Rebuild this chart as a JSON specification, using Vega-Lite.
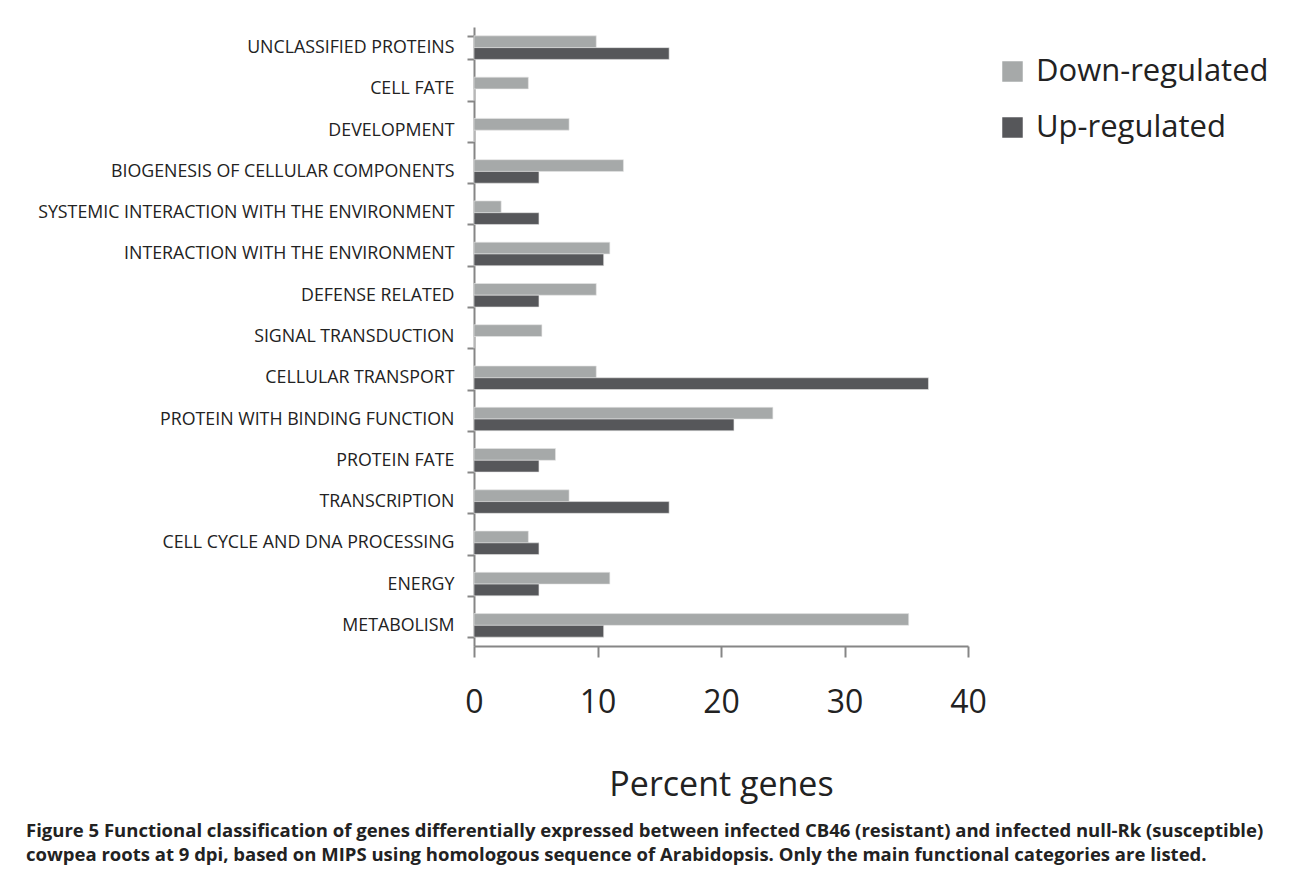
{
  "$schema": "https://vega.github.io/schema/vega-lite/v6.json",
  "width": 494,
  "height": 619,
  "autosize": {"type": "none"},
  "padding": {"left": 474, "top": 27, "right": 325, "bottom": 226},
  "background": "white",
  "title": {
    "text": ["Figure 5 Functional classification of genes differentially expressed between infected CB46 (resistant) and infected null-Rk (susceptible)", "cowpea roots at 9 dpi, based on MIPS using homologous sequence of Arabidopsis. Only the main functional categories are listed."],
    "orient": "bottom",
    "anchor": "start",
    "frame": "group",
    "dx": -448,
    "offset": 20,
    "font": "Open Sans",
    "fontSize": 18.5,
    "fontWeight": "bold",
    "lineHeight": 24,
    "color": "#222222"
  },
  "data": {
    "values": [
      {"category": "UNCLASSIFIED PROTEINS", "series": "Down-regulated", "percent": 9.9},
      {"category": "UNCLASSIFIED PROTEINS", "series": "Up-regulated", "percent": 15.8},
      {"category": "CELL FATE", "series": "Down-regulated", "percent": 4.4},
      {"category": "CELL FATE", "series": "Up-regulated", "percent": 0},
      {"category": "DEVELOPMENT ", "series": "Down-regulated", "percent": 7.7},
      {"category": "DEVELOPMENT ", "series": "Up-regulated", "percent": 0},
      {"category": "BIOGENESIS OF CELLULAR COMPONENTS", "series": "Down-regulated", "percent": 12.1},
      {"category": "BIOGENESIS OF CELLULAR COMPONENTS", "series": "Up-regulated", "percent": 5.26},
      {"category": "SYSTEMIC INTERACTION WITH THE ENVIRONMENT", "series": "Down-regulated", "percent": 2.2},
      {"category": "SYSTEMIC INTERACTION WITH THE ENVIRONMENT", "series": "Up-regulated", "percent": 5.26},
      {"category": "INTERACTION WITH THE  ENVIRONMENT", "series": "Down-regulated", "percent": 11.0},
      {"category": "INTERACTION WITH THE  ENVIRONMENT", "series": "Up-regulated", "percent": 10.5},
      {"category": "DEFENSE RELATED", "series": "Down-regulated", "percent": 9.9},
      {"category": "DEFENSE RELATED", "series": "Up-regulated", "percent": 5.26},
      {"category": "SIGNAL TRANSDUCTION", "series": "Down-regulated", "percent": 5.5},
      {"category": "SIGNAL TRANSDUCTION", "series": "Up-regulated", "percent": 0},
      {"category": "CELLULAR TRANSPORT", "series": "Down-regulated", "percent": 9.9},
      {"category": "CELLULAR TRANSPORT", "series": "Up-regulated", "percent": 36.8},
      {"category": "PROTEIN WITH BINDING FUNCTION ", "series": "Down-regulated", "percent": 24.2},
      {"category": "PROTEIN WITH BINDING FUNCTION ", "series": "Up-regulated", "percent": 21.05},
      {"category": "PROTEIN FATE ", "series": "Down-regulated", "percent": 6.6},
      {"category": "PROTEIN FATE ", "series": "Up-regulated", "percent": 5.26},
      {"category": "TRANSCRIPTION", "series": "Down-regulated", "percent": 7.7},
      {"category": "TRANSCRIPTION", "series": "Up-regulated", "percent": 15.8},
      {"category": "CELL CYCLE AND DNA PROCESSING", "series": "Down-regulated", "percent": 4.4},
      {"category": "CELL CYCLE AND DNA PROCESSING", "series": "Up-regulated", "percent": 5.26},
      {"category": "ENERGY", "series": "Down-regulated", "percent": 11.0},
      {"category": "ENERGY", "series": "Up-regulated", "percent": 5.26},
      {"category": "METABOLISM", "series": "Down-regulated", "percent": 35.2},
      {"category": "METABOLISM", "series": "Up-regulated", "percent": 10.5}
    ]
  },
  "mark": {"type": "bar", "stroke": "#e6e6e6", "strokeWidth": 0.6},
  "encoding": {
    "y": {
      "field": "category",
      "type": "nominal",
      "sort": null,
      "scale": {"paddingInner": 0.43, "paddingOuter": 0.215},
      "axis": {
        "title": null,
        "tickBand": "extent",
        "tickSize": 7,
        "tickWidth": 2,
        "tickColor": "#868686",
        "domainColor": "#868686",
        "domainWidth": 2,
        "labelPadding": 13,
        "labelFont": "Open Sans",
        "labelFontSize": 17.8,
        "labelColor": "#222222",
        "labelLimit": 500
      }
    },
    "yOffset": {"field": "series", "type": "nominal", "sort": ["Down-regulated", "Up-regulated"]},
    "x": {
      "field": "percent",
      "type": "quantitative",
      "scale": {"domain": [0, 40], "nice": false},
      "axis": {
        "title": "Percent genes",
        "values": [0, 10, 20, 30, 40],
        "grid": false,
        "labelFlush": false,
        "tickSize": 11,
        "tickWidth": 2,
        "tickColor": "#868686",
        "domainColor": "#868686",
        "domainWidth": 2,
        "labelPadding": 30,
        "labelFont": "Open Sans",
        "labelFontSize": 32,
        "labelColor": "#222222",
        "titleFont": "Open Sans",
        "titleFontSize": 34,
        "titleFontWeight": "normal",
        "titleColor": "#222222",
        "titlePadding": 50
      }
    },
    "color": {
      "field": "series",
      "type": "nominal",
      "scale": {"domain": ["Down-regulated", "Up-regulated"], "range": ["#a6a9a9", "#56575a"]},
      "legend": {
        "title": null,
        "orient": "none",
        "legendX": 523,
        "legendY": 29,
        "symbolType": "square",
        "symbolSize": 420,
        "symbolStrokeWidth": 0,
        "labelFont": "Open Sans",
        "labelFontSize": 31,
        "labelColor": "#222222",
        "labelOffset": 8,
        "labelLimit": 400,
        "rowPadding": 24
      }
    }
  },
  "config": {"view": {"stroke": null}}
}
